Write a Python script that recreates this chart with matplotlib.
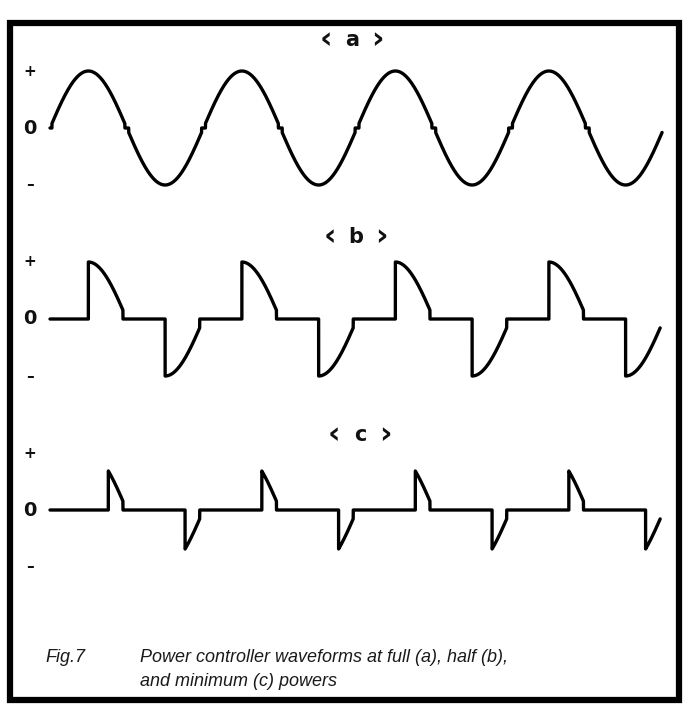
import numpy as np
import matplotlib
matplotlib.use("Agg")
import matplotlib.pyplot as plt
from matplotlib.patches import Rectangle

# Figure size in pixels (dpi 100)
W, H = 692, 708

# Waveform settings
panel_letters = ["a", "b", "c"]
fire_angles = [0.025, 0.50, 0.76]      # triac firing delay, fraction of half cycle
off_angles = [0.025, 0.05, 0.05]       # drop-out before zero crossing, fraction of half cycle
n_cycles = 4
level_marks = ["+", "0", "\u2013"]
level_values = [1.0, 0.0, -1.0]

caption_tag = "Fig.7"
caption_lines = ["Power controller waveforms at full (a), half (b),",
                 "and minimum (c) powers"]

# Layout (pixels)
wave_left = 50
cycle_px = 153.5
amp_px = 57
zero_rows = [128, 319, 510]
label_pos = [(352, 40), (356, 237), (360, 435)]


def px_x(x):
    return x / W


def px_y(y):
    return 1 - y / H


def triac_wave(t, alpha, beta):
    # phase-controlled sine: conducts only between alpha and pi - beta of each half cycle
    theta = np.mod(2 * np.pi * t, np.pi)
    on = (theta >= alpha * np.pi) & (theta <= np.pi - beta * np.pi)
    return np.where(on, np.sin(2 * np.pi * t), 0.0)


fig = plt.figure(figsize=(W / 100, H / 100), dpi=100)
fig.patch.set_facecolor("white")

ylim = 1.6
for i in range(3):
    h = 2 * ylim * amp_px
    ax = fig.add_axes([px_x(wave_left), px_y(zero_rows[i] + h / 2),
                       px_x(cycle_px * n_cycles), h / H])
    t_end = n_cycles - off_angles[i] / 2
    t = np.linspace(0, t_end, 20001)
    y = triac_wave(t, fire_angles[i], off_angles[i])
    ax.plot(t, y, color="black", lw=2.4, solid_joinstyle="round",
            solid_capstyle="round", clip_on=False)
    ax.set_xlim(0, n_cycles)
    ax.set_ylim(-ylim, ylim)
    ax.axis("off")

    # + / 0 / - marks on the left
    for mark, val in zip(level_marks, level_values):
        size = 14 if mark == "0" else 11
        ax.text(-0.13, val, mark, ha="center", va="center", fontsize=size,
                fontweight="heavy", color="#111111", clip_on=False)

    # panel label with heavy angle brackets
    lx, ly = label_pos[i]
    fig.text(px_x(lx), px_y(ly), panel_letters[i], ha="center", va="center",
             fontsize=15, fontweight="heavy", color="#111111")
    fig.text(px_x(lx - 26), px_y(ly), "\u2039", ha="center", va="center",
             fontsize=22, fontweight="heavy", color="#111111")
    fig.text(px_x(lx + 25), px_y(ly), "\u203a", ha="center", va="center",
             fontsize=22, fontweight="heavy", color="#111111")

# Caption
cap_font = ["Liberation Sans", "DejaVu Sans"]
fig.text(px_x(45), px_y(662), caption_tag, ha="left", va="baseline",
         fontsize=13, style="italic", family=cap_font, color="#1a1a1a")
for k, line in enumerate(caption_lines):
    fig.text(px_x(140), px_y(662 + 24 * k), line, ha="left", va="baseline",
             fontsize=13, style="italic", family=cap_font, color="#1a1a1a")

# Thick frame round everything
frame = Rectangle((px_x(10), px_y(700)), px_x(679 - 10), (700 - 23) / H,
                  transform=fig.transFigure, fill=False, edgecolor="black",
                  linewidth=4.5)
fig.patches.append(frame)

fig.savefig("out.png", dpi=100, facecolor="white")
